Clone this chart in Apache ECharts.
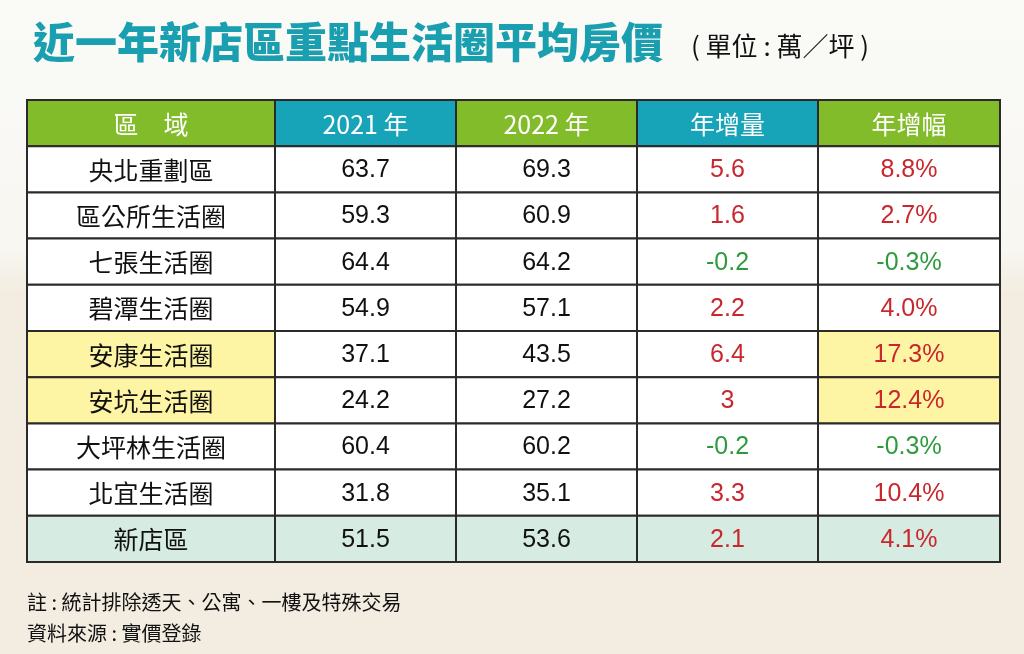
<!DOCTYPE html>
<html><head><meta charset="utf-8">
<script src="https://cdn.jsdelivr.net/npm/echarts@6/dist/echarts.min.js"></script>
<style>html,body{margin:0;padding:0;}#c{width:1024px;height:654px;background:linear-gradient(#fafaf7 0%,#f8f7f2 38%,#f3ece0 45%,#f3ece0 100%);}</style>
</head><body><div id="c"></div>
<script>
const headers = ['區　域','2021 年','2022 年','年增量','年增幅'];
const regions = ['央北重劃區','區公所生活圈','七張生活圈','碧潭生活圈','安康生活圈','安坑生活圈','大坪林生活圈','北宜生活圈','新店區'];
const price2021 = [63.7,59.3,64.4,54.9,37.1,24.2,60.4,31.8,51.5];
const price2022 = [69.3,60.9,64.2,57.1,43.5,27.2,60.2,35.1,53.6];
const yoyAmount = ['5.6','1.6','-0.2','2.2','6.4','3','-0.2','3.3','2.1'];
const yoyPct = ['8.8%','2.7%','-0.3%','4.0%','17.3%','12.4%','-0.3%','10.4%','4.1%'];
const highlightRows = [4,5];

// layout: relative column widths (style, not data)
const colWidths = [248,181,181,181,182];
const colEdges = [0]; colWidths.forEach(w=>colEdges.push(colEdges[colEdges.length-1]+w));

const headerColors = ['#83bc2b','#17a3b8','#83bc2b','#17a3b8','#83bc2b'];
const data = [];
headers.forEach((h,c)=>data.push({value:[c,0],text:h,fill:headerColors[c],color:'#fff',cn:true}));
regions.forEach((r,i)=>{
  const row=i+1;
  const last = i===regions.length-1;
  const base = last ? '#d6ebe1' : '#ffffff';
  const hl = highlightRows.includes(i);
  const neg = yoyAmount[i].startsWith('-');
  const vc = neg ? '#2e9a3e' : '#c8282d';
  data.push({value:[0,row],text:r,fill:hl?'#fdf5a3':base,color:'#111',cn:true});
  data.push({value:[1,row],text:price2021[i].toFixed(1),fill:base,color:'#111'});
  data.push({value:[2,row],text:price2022[i].toFixed(1),fill:base,color:'#111'});
  data.push({value:[3,row],text:yoyAmount[i],fill:base,color:vc});
  data.push({value:[4,row],text:yoyPct[i],fill:hl?'#fdf5a3':base,color:vc});
});
const chart = echarts.init(document.getElementById('c'));
chart.setOption({
  animation:false,
  title:[{text:'近一年新店區重點生活圈平均房價',left:28,top:16,textStyle:{fontFamily:'Noto Sans CJK TC',fontWeight:900,fontSize:42,color:'#1a9fb1'}},
         {text:'( 單位 : 萬／坪 )',left:686,top:28,textStyle:{fontFamily:'Noto Sans CJK TC',fontWeight:'normal',fontSize:26,color:'#111'}}],
  grid:{left:27,right:24,top:100,bottom:92},
  xAxis:{type:'value',min:0,max:colEdges[colEdges.length-1],show:false},
  yAxis:{type:'category',data:['h'].concat(regions),inverse:true,show:false},
  graphic:[{type:'text',left:27,top:592,style:{text:'註 : 統計排除透天、公寓、一樓及特殊交易',font:'20px "Noto Sans CJK TC"',fill:'#111'}},
           {type:'text',left:27,top:623,style:{text:'資料來源 : 實價登錄',font:'20px "Noto Sans CJK TC"',fill:'#111'}}],
  series:[{type:'custom',data:data,
    renderItem:function(params,api){
      const d=data[params.dataIndex];
      const c=api.value(0), r=api.value(1);
      const x0=api.coord([colEdges[c],r])[0], x1=api.coord([colEdges[c+1],r])[0];
      const yc=api.coord([0,r])[1];
      const h=api.size([0,1])[1];
      return {type:'group',children:[
        {type:'rect',shape:{x:x0,y:yc-h/2,width:x1-x0,height:h},style:{fill:d.fill,stroke:'#2a2a2a',lineWidth:2}},
        {type:'text',style:{x:(x0+x1)/2,y:yc+1,text:d.text,align:'center',verticalAlign:'middle',fill:d.color,
          font:(d.cn?'25px "Noto Sans CJK TC"':'25px "Liberation Sans Narrow","Liberation Sans",sans-serif')}}
      ]};
    }}]
});
</script></body></html>
